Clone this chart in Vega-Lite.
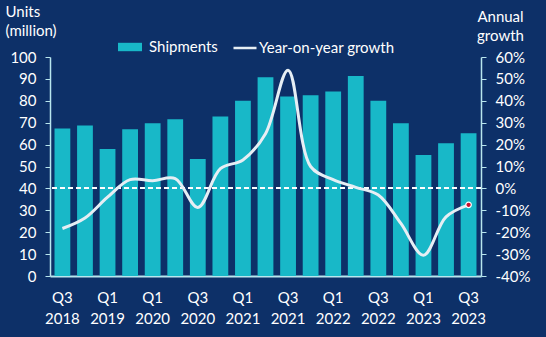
{
  "$schema": "https://vega.github.io/schema/vega-lite/v6.json",
  "width": 431,
  "height": 219,
  "autosize": {"type": "none"},
  "padding": {"left": 50, "top": 57, "right": 65, "bottom": 61},
  "background": "#0d3068",
  "config": {
    "view": {"stroke": null},
    "font": "Lato",
    "axis": {
      "labelColor": "white",
      "titleColor": "white",
      "labelFont": "Lato",
      "titleFont": "Lato",
      "labelFontSize": 15,
      "titleFontSize": 15,
      "titleFontWeight": "normal",
      "grid": false,
      "domainColor": "#b8e6ee",
      "tickColor": "#b8e6ee",
      "domainWidth": 1.5
    },
    "legend": {"labelColor": "white", "labelFont": "Lato", "labelFontSize": 15}
  },
  "data": {
    "values": [
      {"i": 0, "quarter": "Q3 2018", "shipments": 67.3, "growth": -18.3},
      {"i": 1, "quarter": "Q4 2018", "shipments": 68.7, "growth": -13.5},
      {"i": 2, "quarter": "Q1 2019", "shipments": 58, "growth": -4},
      {"i": 3, "quarter": "Q3 2019", "shipments": 67, "growth": 4},
      {"i": 4, "quarter": "Q1 2020", "shipments": 69.8, "growth": 3.5},
      {"i": 5, "quarter": "Q2 2020", "shipments": 71.6, "growth": 4.5},
      {"i": 6, "quarter": "Q3 2020", "shipments": 53.4, "growth": -8.7},
      {"i": 7, "quarter": "Q4 2020", "shipments": 72.8, "growth": 9},
      {"i": 8, "quarter": "Q1 2021", "shipments": 80, "growth": 13},
      {"i": 9, "quarter": "Q2 2021", "shipments": 90.8, "growth": 25},
      {"i": 10, "quarter": "Q3 2021", "shipments": 82, "growth": 54},
      {"i": 11, "quarter": "Q4 2021", "shipments": 82.5, "growth": 10},
      {"i": 12, "quarter": "Q1 2022", "shipments": 84.2, "growth": 4},
      {"i": 13, "quarter": "Q2 2022", "shipments": 91.3, "growth": 0.5},
      {"i": 14, "quarter": "Q3 2022", "shipments": 80, "growth": -3},
      {"i": 15, "quarter": "Q4 2022", "shipments": 69.8, "growth": -16},
      {"i": 16, "quarter": "Q1 2023", "shipments": 55.3, "growth": -30.5},
      {"i": 17, "quarter": "Q2 2023", "shipments": 60.6, "growth": -13},
      {"i": 18, "quarter": "Q3 2023", "shipments": 65.2, "growth": -7.5}
    ]
  },
  "encoding": {
    "x": {
      "field": "quarter",
      "type": "ordinal",
      "sort": ["Q3 2018", "Q4 2018", "Q1 2019", "Q3 2019", "Q1 2020", "Q2 2020", "Q3 2020", "Q4 2020", "Q1 2021", "Q2 2021", "Q3 2021", "Q4 2021", "Q1 2022", "Q2 2022", "Q3 2022", "Q4 2022", "Q1 2023", "Q2 2023", "Q3 2023"],
      "scale": {"paddingInner": 0.3, "paddingOuter": 0.2},
      "axis": {
        "title": null,
        "values": ["Q3 2018", "Q1 2019", "Q1 2020", "Q3 2020", "Q1 2021", "Q3 2021", "Q1 2022", "Q3 2022", "Q1 2023", "Q3 2023"],
        "labelExpr": "split(datum.value, ' ')",
        "labelAngle": 0,
        "labelLineHeight": 21,
        "labelPadding": 14,
        "ticks": false,
        "domainWidth": 2
      }
    }
  },
  "layer": [
    {
      "mark": {"type": "bar", "color": "#18b8c8"},
      "encoding": {
        "y": {
          "field": "shipments",
          "type": "quantitative",
          "scale": {"domain": [0, 100], "nice": false},
          "axis": {
            "orient": "left",
            "values": [0, 10, 20, 30, 40, 50, 60, 70, 80, 90, 100],
            "tickSize": 5,
            "labelPadding": 9,
            "title": ["Units", "(million)"],
            "titleAngle": 0,
            "titleAlign": "left",
            "titleBaseline": "top",
            "titleX": -45,
            "titleY": -53,
            "titleLineHeight": 19
          }
        },
        "fill": {
          "datum": "Shipments",
          "scale": {"range": ["#18b8c8"]},
          "legend": {
            "title": null,
            "orient": "none",
            "legendX": 68,
            "legendY": -22,
            "symbolType": "M-1,-0.35H1V0.35H-1Z",
            "symbolSize": 576,
            "symbolStrokeWidth": 0,
            "labelOffset": 7
          }
        }
      }
    },
    {
      "encoding": {
        "y": {
          "field": "growth",
          "type": "quantitative",
          "scale": {"domain": [-40, 60], "nice": false},
          "axis": {
            "orient": "right",
            "values": [-40, -30, -20, -10, 0, 10, 20, 30, 40, 50, 60],
            "labelExpr": "datum.value + '%'",
            "tickSize": 5,
            "labelPadding": 9,
            "title": ["Annual", "growth"],
            "titleAngle": 0,
            "titleAlign": "center",
            "titleBaseline": "top",
            "titleX": 19,
            "titleY": -48,
            "titleLineHeight": 19
          }
        }
      },
      "layer": [
        {
          "mark": {"type": "rule", "color": "white", "strokeDash": [5, 3], "strokeWidth": 1.2, "opacity": 0.9},
          "encoding": {"y": {"datum": 0}, "x": null}
        },
        {
          "mark": {"type": "line", "interpolate": "catmull-rom", "strokeWidth": 3, "color": "#e6eef4"},
          "encoding": {
            "stroke": {
              "datum": "Year-on-year growth",
              "scale": {"range": ["#e6eef4"]},
              "legend": {
                "title": null,
                "orient": "none",
                "legendX": 182,
                "legendY": -22,
                "symbolType": "stroke",
                "symbolSize": 529,
                "symbolStrokeWidth": 2.5,
                "labelOffset": 1
              }
            }
          }
        },
        {
          "transform": [{"filter": "datum.i == 18"}],
          "mark": {"type": "point", "filled": true, "fill": "#c8102e", "stroke": "white", "strokeWidth": 1.2, "size": 30, "opacity": 1}
        }
      ]
    }
  ],
  "resolve": {"scale": {"y": "independent", "fill": "independent", "stroke": "independent"}}
}
